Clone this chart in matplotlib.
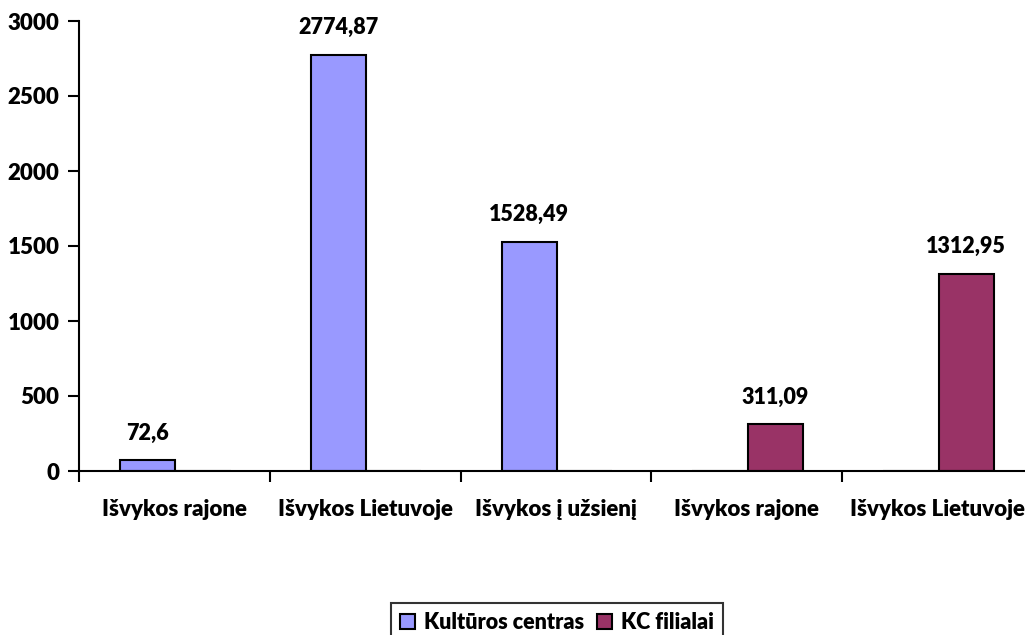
import numpy as np
from matplotlib import pyplot as plt

categories = ["Išvykos rajone", "Išvykos Lietuvoje", "Išvykos į užsienį",
              "Išvykos rajone", "Išvykos Lietuvoje"]
kultura = [72.6, 2774.87, 1528.49, 0, 0]
filialai = [0, 0, 0, 311.09, 1312.95]
kultura_lbl = ["72,6", "2774,87", "1528,49", "", ""]
filialai_lbl = ["", "", "", "311,09", "1312,95"]
yticks = [0, 500, 1000, 1500, 2000, 2500, 3000]

plt.rcParams['font.family'] = ['Lato', 'DejaVu Sans']
plt.rcParams['font.weight'] = 'heavy'

fig = plt.figure(figsize=(10.25, 6.35), dpi=100)
W, H = 1025, 635
x0, x1 = 79, 1033
y0, y1 = 471, 21
ax = fig.add_axes([x0 / W, 1 - y0 / H, (x1 - x0) / W, (y0 - y1) / H])

x = np.arange(len(categories))
w = 0.29
b1 = ax.bar(x - w / 2 + 0.005, kultura, w, color="#9999FF", edgecolor="black", linewidth=1.5,
            label="Kultūros centras")
b2 = ax.bar(x + w / 2 + 0.005, filialai, w, color="#993366", edgecolor="black", linewidth=1.5,
            label="KC filialai")

for bars, lbls in [(b1, kultura_lbl), (b2, filialai_lbl)]:
    for r, t in zip(bars, lbls):
        if t:
            ax.annotate(t, (r.get_x() + r.get_width() / 2, r.get_height()),
                        xytext=(0, 12), textcoords="offset points",
                        ha="center", va="bottom", fontsize=15.5, fontweight="heavy")

ax.set_xlim(-0.5, len(categories) - 0.5)
ax.set_ylim(0, 3000)
ax.set_yticks(yticks)
ax.set_xticks(np.arange(len(categories) + 1) - 0.5)
ax.set_xticklabels([])
ax.set_xticks(x, minor=True)
ax.set_xticklabels(categories, minor=True)
ax.tick_params(axis="x", which="minor", length=0, pad=20, labelsize=16)
ax.tick_params(axis="x", which="major", length=8, width=1.5, direction="out")
ax.tick_params(axis="y", length=8, width=1.5, direction="out", labelsize=16, pad=6)
for s in ["top", "right"]:
    ax.spines[s].set_visible(False)
for s in ["left", "bottom"]:
    ax.spines[s].set_linewidth(1.5)

leg = fig.legend(handles=[b1, b2], loc="upper center", bbox_to_anchor=(557 / W, 1 - 592 / H),
                 ncol=2, fontsize=15.5, frameon=True, fancybox=False, edgecolor="black",
                 handlelength=0.7, handleheight=0.7, handletextpad=0.4, columnspacing=0.6,
                 borderpad=0.45)
leg.get_frame().set_linewidth(1.5)

plt.savefig("out.png", dpi=100)
